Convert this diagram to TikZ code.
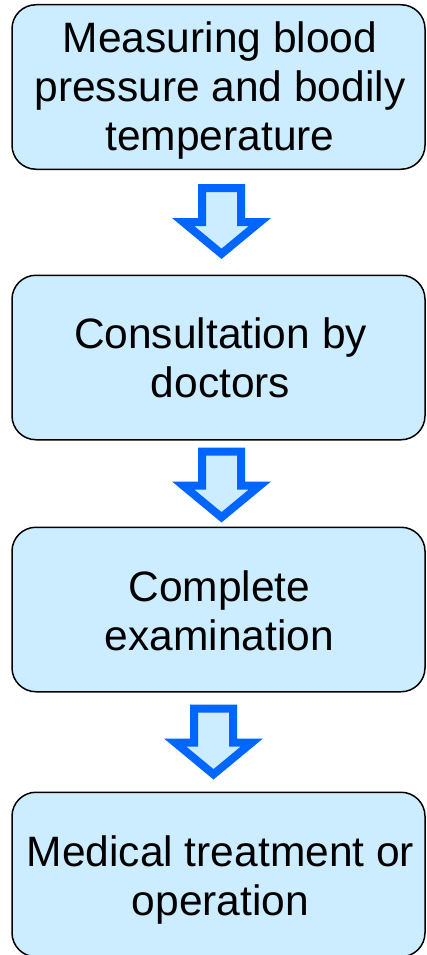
\documentclass[tikz,border=0pt]{standalone}
\usepackage{fontspec}
\setmainfont{Liberation Sans}
\definecolor{boxfill}{HTML}{CCECFF}
\definecolor{arrowblue}{HTML}{0066FF}
\tikzset{
  stepbox/.style={draw=black, line width=1.5pt, fill=boxfill,
    rounded corners=24pt, minimum width=413pt, minimum height=164.5pt,
    inner sep=0pt},
  boxtext/.style={font=\fontsize{42.5}{49}\selectfont, align=center,
    inner sep=0pt, text=black},
  flowarrow/.style={draw=arrowblue, fill=boxfill, line width=8pt,
    miter limit=10},
  pics/downarrow/.style={code={
    \path[flowarrow] (-19.5,0) -- (19.5,0) -- (19.5,34) -- (38.4,34)
      -- (0,65.8) -- (-38.4,34) -- (-19.5,34) -- cycle;
  }}
}
\begin{document}
\begin{tikzpicture}[x=1pt,y=-1pt]
\useasboundingbox (0,0) rectangle (426,955);

% the four steps of the visit (y grows downwards)
\node[stepbox] (b1) at (218.5,87) {};
\node[stepbox] (b2) at (218.5,357.5) {};
\node[stepbox] (b3) at (218.5,609.5) {};
\node[stepbox] (b4) at (218.5,874.5) {};

\node[boxtext] (t1) at ([shift={(1.5,3.75)}]b1.center)
  {Measuring blood\\pressure and bodily\\temperature};
\node[boxtext] (t2) at ([shift={(2,0)}]b2.center) {Consultation by\\doctors};
\node[boxtext] (t3) at ([shift={(1,1.4)}]b3.center) {Complete\\examination};
\node[boxtext] (t4) at ([shift={(2,5.2)}]b4.center) {Medical treatment or\\operation};

% hollow block arrows between the steps
\coordinate (a1) at ([shift={(3,18)}]b1.south);
\coordinate (a2) at ([shift={(3,11)}]b2.south);
\coordinate (a3) at ([shift={(-5,16)}]b3.south);
\pic at (a1) {downarrow};
\pic at (a2) {downarrow};
\pic at (a3) {downarrow};
\end{tikzpicture}
\end{document}
